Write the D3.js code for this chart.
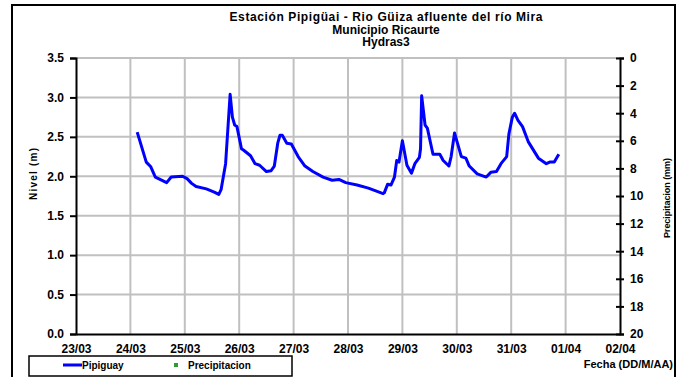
<!DOCTYPE html>
<html>
<head>
<meta charset="utf-8">
<script src="https://cdn.jsdelivr.net/npm/d3@7"></script>
<style>
  html, body { margin: 0; padding: 0; background: #fff; }
  svg { display: block; font-family: "Liberation Sans", Arial, sans-serif; font-weight: bold; }
</style>
</head>
<body>
<svg id="chart" width="682" height="377"></svg>
<script>
// Nivel del río Güiza en la estación Pipigüai (m), lecturas horarias
const times = [
  "24/03 03:00","24/03 07:00","24/03 09:00","24/03 11:00","24/03 16:00","24/03 18:00","24/03 23:00",
  "25/03 01:00","25/03 03:00","25/03 05:00","25/03 09:30","25/03 13:00","25/03 15:00","25/03 16:00",
  "25/03 18:00","25/03 20:00","25/03 21:00","25/03 22:00","25/03 23:00",
  "26/03 01:00","26/03 02:00","26/03 05:00","26/03 07:00","26/03 09:00","26/03 12:00","26/03 14:00",
  "26/03 15:30","26/03 17:00","26/03 18:00","26/03 19:00","26/03 21:00","26/03 23:00",
  "27/03 02:00","27/03 05:00","27/03 08:30","27/03 13:00","27/03 17:00","27/03 20:00","27/03 23:00",
  "28/03 04:00","28/03 09:00","28/03 15:30","28/03 16:00","28/03 17:30","28/03 19:00","28/03 20:30",
  "28/03 21:30","28/03 22:30",
  "29/03 00:00","29/03 02:00","29/03 04:00","29/03 05:30","29/03 07:30","29/03 08:00","29/03 08:30",
  "29/03 10:00","29/03 11:00","29/03 13:30","29/03 16:30","29/03 18:00","29/03 20:30","29/03 21:30",
  "29/03 23:00",
  "30/03 02:00","30/03 04:00","30/03 05:30","30/03 09:00","30/03 13:00","30/03 15:00","30/03 17:30",
  "30/03 19:30","30/03 22:00","30/03 23:00",
  "31/03 00:30","31/03 01:30","31/03 03:00","31/03 05:00","31/03 07:30","31/03 12:00","31/03 15:30",
  "31/03 17:00","31/03 19:00","31/03 21:00"
];
const pipiguay = [
  2.56, 2.18, 2.12, 1.99, 1.92, 1.99, 2.00,
  1.97, 1.91, 1.87, 1.84, 1.80, 1.77, 1.83,
  2.16, 3.04, 2.75, 2.65, 2.63,
  2.35, 2.33, 2.26, 2.16, 2.14, 2.06, 2.07,
  2.13, 2.42, 2.52, 2.52, 2.42, 2.41,
  2.25, 2.13, 2.06, 1.99, 1.95, 1.96, 1.92,
  1.89, 1.85, 1.78, 1.79, 1.90, 1.89, 1.99,
  2.20, 2.18,
  2.45, 2.14, 2.04, 2.16, 2.24, 2.35, 3.02,
  2.65, 2.61, 2.28, 2.28, 2.20, 2.13, 2.25,
  2.55,
  2.25, 2.23, 2.13, 2.03, 1.99, 2.05, 2.06,
  2.16, 2.25, 2.54,
  2.75, 2.80, 2.71, 2.63, 2.44, 2.23, 2.16,
  2.18, 2.18, 2.28
];
// Precipitación (mm): sin registros en el periodo
const precipitacion = [];

const dateTicks = ["23/03","24/03","25/03","26/03","27/03","28/03","29/03","30/03","31/03","01/04","02/04"];
const levelTicks = [0, 0.5, 1.0, 1.5, 2.0, 2.5, 3.0, 3.5];
const rainTicks = [0, 2, 4, 6, 8, 10, 12, 14, 16, 18, 20];

const titleLines = [
  "Estación Pipigüai - Rio Güiza afluente del río Mira",
  "Municipio Ricaurte",
  "Hydras3"
];

const parseTime = d3.timeParse("%d/%m %H:%M");
const parseDay = d3.timeParse("%d/%m");
const series = times.map((t, i) => ({ t: parseTime(t), v: pipiguay[i] }));

const svg = d3.select("#chart");
const plot = { left: 76, right: 620, top: 58, bottom: 334 };
const FONT = "Liberation Sans, Arial, sans-serif";

// Outer frame
svg.append("rect").attr("x", 12).attr("y", 5).attr("width", 663).attr("height", 380)
  .attr("fill", "#fff").attr("stroke", "#000").attr("stroke-width", 2);

const x = d3.scaleTime()
  .domain([parseDay(dateTicks[0]), parseDay(dateTicks[dateTicks.length - 1])])
  .range([plot.left, plot.right]);
const y = d3.scaleLinear().domain([0, 3.5]).range([plot.bottom, plot.top]);
const y2 = d3.scaleLinear().domain([0, 20]).range([plot.top, plot.bottom]);

// Grid
const grid = svg.append("g").attr("stroke", "#c0c0c0").attr("stroke-width", 2);
grid.selectAll("line.h").data(levelTicks.slice(1)).join("line")
  .attr("x1", plot.left).attr("x2", plot.right)
  .attr("y1", d => y(d)).attr("y2", d => y(d));
grid.selectAll("line.v").data(dateTicks.slice(1, -1)).join("line")
  .attr("x1", d => x(parseDay(d))).attr("x2", d => x(parseDay(d)))
  .attr("y1", plot.top).attr("y2", plot.bottom);

function styleTicks(g) {
  g.select(".domain").attr("stroke", "#000").attr("stroke-width", 2);
  g.selectAll(".tick line").attr("stroke", "#000").attr("stroke-width", 2);
  g.selectAll(".tick text").attr("font-size", 12).attr("font-weight", "bold")
    .attr("font-family", FONT).attr("fill", "#000");
}

// Left axis
const gy = svg.append("g").attr("transform", `translate(${plot.left},0)`)
  .call(d3.axisLeft(y).tickValues(levelTicks).tickFormat(d3.format(".1f")).tickSize(6).tickPadding(6));
styleTicks(gy);

// Right axis (ticks crossing the line)
const gy2 = svg.append("g").attr("transform", `translate(${plot.right},0)`)
  .call(d3.axisRight(y2).tickValues(rainTicks).tickSize(4).tickPadding(6));
styleTicks(gy2);
gy2.selectAll(".tick line").attr("x1", -4);

// Bottom axis
const gx = svg.append("g").attr("transform", `translate(0,${plot.bottom})`)
  .call(d3.axisBottom(x).tickValues(dateTicks.map(parseDay)).tickFormat(d3.timeFormat("%d/%m"))
    .tickSize(0).tickPadding(10));
styleTicks(gx);

// Level line
const line = d3.line().x(d => x(d.t)).y(d => y(d.v));
svg.append("path").datum(series).attr("d", line)
  .attr("fill", "none").attr("stroke", "#0000ff").attr("stroke-width", 3)
  .attr("stroke-linejoin", "round");

// Precipitation markers (none recorded)
svg.append("g").selectAll("rect").data(precipitacion).join("rect")
  .attr("x", (d, i) => x(series[i].t) - 2).attr("y", d => y2(d) - 2)
  .attr("width", 4).attr("height", 4).attr("fill", "#339933");

// Title, one text per line
svg.append("g").selectAll("text").data(titleLines).join("text")
  .attr("x", 386).attr("y", (d, i) => 21 + i * 12.5)
  .attr("text-anchor", "middle").attr("font-size", 12)
  .attr("textLength", (d, i) => i === 0 ? 313 : null)
  .text(d => d);

// Axis titles
svg.append("text").attr("transform", "translate(37,174) rotate(-90)")
  .attr("text-anchor", "middle").attr("font-size", 10).attr("textLength", 52)
  .text("Nivel (m)");
svg.append("text").attr("transform", "translate(670,198) rotate(-90)")
  .attr("text-anchor", "middle").attr("font-size", 9).attr("textLength", 80)
  .text("Precipitacion (mm)");
svg.append("text").attr("x", 673).attr("y", 368).attr("text-anchor", "end")
  .attr("font-size", 11).text("Fecha (DD/M/AA)");

// Legend
const lg = svg.append("g");
lg.append("rect").attr("x", 29).attr("y", 356).attr("width", 263).attr("height", 20)
  .attr("fill", "#fff").attr("stroke", "#000").attr("stroke-width", 1.5);
lg.append("line").attr("x1", 63).attr("x2", 82).attr("y1", 365).attr("y2", 365)
  .attr("stroke", "#0000ff").attr("stroke-width", 3);
lg.append("text").attr("x", 82).attr("y", 369).attr("font-size", 10).text("Pipiguay");
lg.append("rect").attr("x", 174).attr("y", 363).attr("width", 4).attr("height", 4).attr("fill", "#339933");
lg.append("text").attr("x", 188).attr("y", 369).attr("font-size", 10).text("Precipitacion");
</script>
</body>
</html>
